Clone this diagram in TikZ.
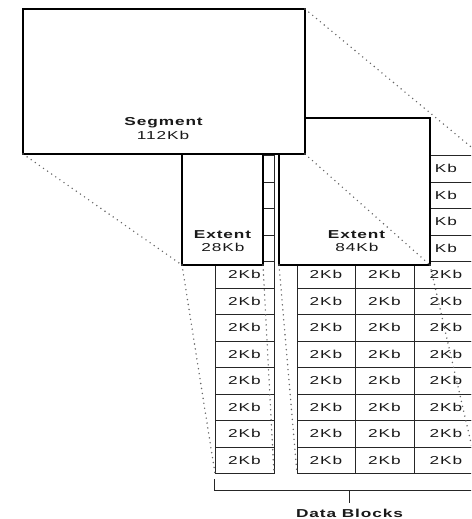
\documentclass[tikz,border=0pt]{standalone}
\usepackage{fontspec}
\newfontfamily\wf{Liberation Sans}[FakeStretch=1.5,LetterSpace=8]
\begin{document}
\begin{tikzpicture}[x=1pt,y=-1pt,
  cell/.style={draw=black!85,line width=0.9pt,minimum height=26.5pt,inner sep=0pt,outer sep=0pt,
    font=\wf\fontsize{11.5}{13}\selectfont,text=black!90},
  ext/.style={draw=black,fill=white,line width=1.4pt,inner sep=0pt,outer sep=0pt},
  segbox/.style={draw=black,fill=white,line width=1.9pt,inner sep=0pt,outer sep=0pt},
  lbl/.style={font=\wf\fontsize{11.5}{13}\selectfont,text=black!90,inner sep=0pt,anchor=base},
  dots/.style={draw=black!60,line width=1.6pt,line cap=round,dash pattern=on 0pt off 5pt},
  brk/.style={draw=black!85,line width=1pt}
]
\useasboundingbox (0,0) rectangle (471,519);
\fill[white] (0,0) rectangle (471,519);
\clip (0,0) rectangle (471,519);

% data blocks
\foreach \c/\cx/\w in {1/244.5/59, 2/326/58, 3/384.5/59, 4/446/64}{
  \foreach \r in {1,...,12}{
    \node[cell,minimum width=\w pt] (c-\c-\r) at (\cx,142.25+\r*26.5)
      {\ifnum\r>4 2Kb\else\ifnum\c=4 Kb\fi\fi};
  }
}

% extents and segment
\node[ext,minimum width=151pt,minimum height=147pt] (extB) at (354.5,191.5) {};
\node[ext,minimum width=81pt,minimum height=125pt] (extA) at (222.5,202.5) {};
\node[segbox,minimum width=282pt,minimum height=145pt] (seg) at (164,81.5) {};

% labels
\node[lbl] (segt) at (164,125.5) {\textbf{Segment}};
\node[lbl] (segs) at (163,139) {112Kb};
\node[lbl] (extAt) at (223,238) {\textbf{Extent}};
\node[lbl] (extAs) at (223,251.7) {28Kb};
\node[lbl] (extBt) at (357,238) {\textbf{Extent}};
\node[lbl] (extBs) at (357,251.7) {84Kb};

% dotted projection lines
\coordinate (far) at (500,171);
\draw[dots] (seg.north east) -- (far);
\draw[dots] (seg.south west) -- (extA.south west);
\draw[dots] (seg.south east) -- (extB.south east);
\draw[dots] (extA.south west) -- (c-1-12.south west);
\draw[dots] (extA.south east) -- (c-1-12.south east);
\draw[dots] (extB.south west) -- (c-2-12.south west);
\draw[dots] (extB.south east) -- (c-4-12.south east);

% bracket
\coordinate (bl) at (214,479);
\coordinate (br) at (480,490.5);
\coordinate (bm) at (349,490.5);
\coordinate (bt) at (349,503);
\draw[brk] (bl) |- (br);
\draw[brk] (bm) -- (bt);
\node[lbl] (db) at (350,517.5) {\textbf{Data Blocks}};
\end{tikzpicture}
\end{document}
